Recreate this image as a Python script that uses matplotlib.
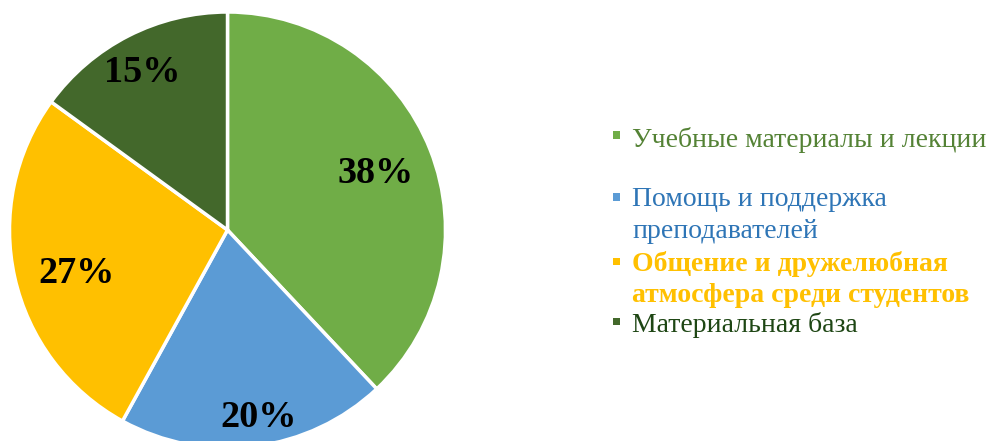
import matplotlib
matplotlib.use("Agg")
import matplotlib.pyplot as plt
import numpy as np
from matplotlib.patches import Rectangle

categories = ["Учебные материалы и лекции",
              "Помощь и поддержка\nпреподавателей",
              "Общение и дружелюбная\nатмосфера среди студентов",
              "Материальная база"]
values = [38, 20, 27, 15]
slice_colors = ["#70AD47", "#5B9BD5", "#FFC000", "#43682B"]
text_colors = ["#548235", "#2E75B6", "#FFC000", "#1E4614"]
text_bold = [False, False, True, False]

plt.rcParams['font.family'] = ['Liberation Serif', 'DejaVu Serif']

W, H = 991, 441
fig = plt.figure(figsize=(W / 100, H / 100), dpi=100)
cx, cy, r = 227.5, 230, 218
ax = fig.add_axes([(cx - r) / W, (H - cy - r) / H, 2 * r / W, 2 * r / H])
wedges, _ = ax.pie(values, colors=slice_colors, startangle=90, counterclock=False,
                   wedgeprops=dict(edgecolor="white", linewidth=2.5))
ax.set_xlim(-1, 1)
ax.set_ylim(-1, 1)
ax.set_aspect("equal")
ax.axis("off")

dists = [0.734, 0.859, 0.715, 0.834]
ang_off = [0.2, 2.5, 2.4, 1.0]
for w, v, d, o in zip(wedges, values, dists, ang_off):
    a = np.deg2rad((w.theta1 + w.theta2) / 2 + o)
    ax.text(d * np.cos(a), d * np.sin(a) - 12.5 / r, f"{v}%", ha="center", va="baseline",
            fontsize=27.5, fontweight="bold", color="black")

# legend
ys = [140, 200, 264, 325]
sq = [135, 197, 261, 321]
for lab, col, tc, b, y, s in zip(categories, slice_colors, text_colors, text_bold, ys, sq):
    lines = lab.split("\n")
    fig.patches.append(Rectangle(((616 - 3.5) / W, (H - s - 3.5) / H), 7 / W, 7 / H,
                                 transform=fig.transFigure, facecolor=col, edgecolor="none"))
    for i, ln in enumerate(lines):
        fig.text(632 / W, (H - (y + i * 31)) / H, ln, ha="left", va="center",
                 fontsize=20, color=tc, fontweight="bold" if b else "normal")

fig.savefig("out.png", dpi=100)
